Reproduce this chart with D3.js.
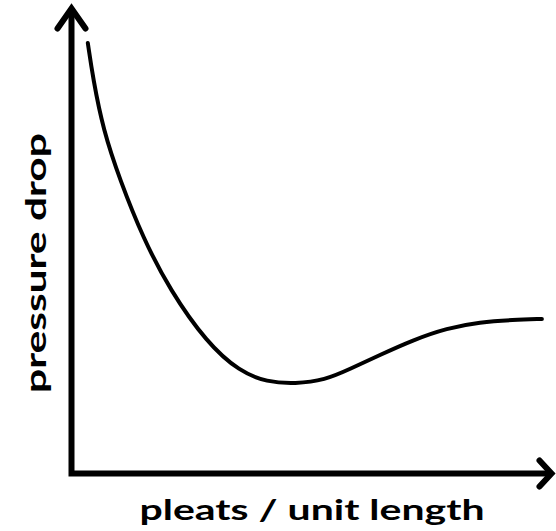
<!DOCTYPE html>
<html>
<head>
<meta charset="utf-8">
<script src="https://cdn.jsdelivr.net/npm/d3@7"></script>
<style>
  html, body { margin: 0; padding: 0; background: #fff; }
  svg { display: block; }
</style>
</head>
<body>
<div id="chart"></div>
<script>
// pressure drop vs pleat density — schematic curve, arbitrary units (0..100)
const pleats = [3.4, 4.5, 6.6, 10.1, 14.9, 20.5, 28.2, 35.1, 40.7, 46.6, 52.8, 58.0,
                64.3, 71.1, 78.2, 85.1, 92.0, 98.0];
const pressure = [93.6, 85.8, 74.7, 63.8, 51.2, 39.9, 28.4, 22.1, 19.9, 19.5, 20.3, 22.7,
                  25.8, 29.0, 31.6, 32.9, 33.4, 33.6];
const xLabel = 'pleats / unit length';
const yLabel = 'pressure drop';

const W = 556, H = 531;
const svg = d3.select('#chart').append('svg')
  .attr('width', W).attr('height', H)
  .attr('viewBox', `0 0 ${W} ${H}`);

const x = d3.scaleLinear().domain([0, 100]).range([71.5, 551.5]);
const y = d3.scaleLinear().domain([0, 100]).range([473.5, 13.5]);

// ---- axes with open arrowheads ----
const x0 = x(0), y0 = y(0);
svg.append('path')
  .attr('d', `M${x0},${y(100) - 5}V${y0}H${x(100)}`)
  .attr('fill', 'none').attr('stroke', '#000')
  .attr('stroke-width', 6).attr('stroke-linejoin', 'miter');

const tipY = y(100) - 6;
svg.append('path')
  .attr('d', `M${x0 - 14},${tipY + 21}L${x0},${tipY + 1}L${x0 + 14},${tipY + 21}`)
  .attr('fill', 'none').attr('stroke', '#000')
  .attr('stroke-width', 6).attr('stroke-linecap', 'round').attr('stroke-linejoin', 'miter');

const tipX = x(100);
svg.append('path')
  .attr('d', `M${tipX - 12},${y0 - 13}L${tipX},${y0}L${tipX - 12},${y0 + 13}`)
  .attr('fill', 'none').attr('stroke', '#000')
  .attr('stroke-width', 6).attr('stroke-linecap', 'round').attr('stroke-linejoin', 'miter');

// ---- curve (B-spline smooths out the hand-read points) ----
const pts = pleats.map((p, i) => [p, pressure[i]]);
const line = d3.line()
  .x(d => x(d[0])).y(d => y(d[1]))
  .curve(d3.curveBasis);

svg.append('path')
  .datum(pts)
  .attr('d', line)
  .attr('fill', 'none')
  .attr('stroke', '#000')
  .attr('stroke-width', 4)
  .attr('stroke-linecap', 'round');

// ---- labels ----
svg.append('text')
  .attr('x', 312).attr('y', 520)
  .attr('text-anchor', 'middle')
  .attr('font-family', 'Lato, "DejaVu Sans", sans-serif')
  .attr('font-weight', 700)
  .attr('font-size', 29)
  .attr('textLength', 345).attr('lengthAdjust', 'spacingAndGlyphs')
  .attr('fill', '#000')
  .text(xLabel);

svg.append('text')
  .attr('transform', 'translate(46,263) rotate(-90)')
  .attr('text-anchor', 'middle')
  .attr('font-family', 'Lato, "DejaVu Sans", sans-serif')
  .attr('font-weight', 700)
  .attr('font-size', 29)
  .attr('textLength', 260).attr('lengthAdjust', 'spacingAndGlyphs')
  .attr('fill', '#000')
  .text(yLabel);
</script>
</body>
</html>
